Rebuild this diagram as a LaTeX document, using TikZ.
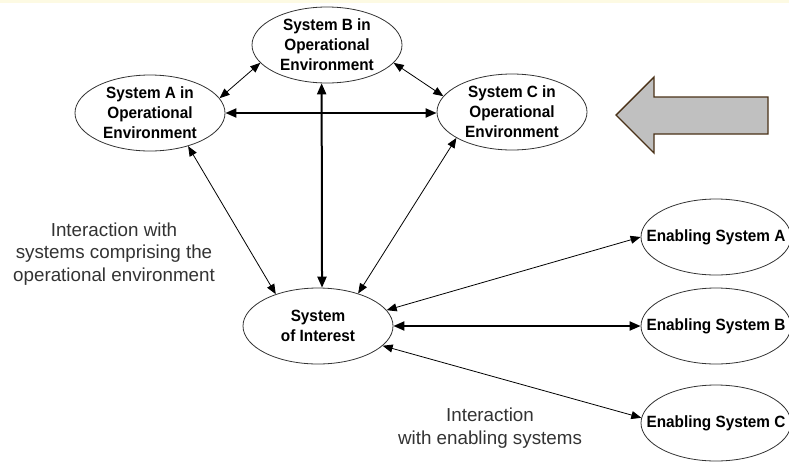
\documentclass[tikz,border=0pt]{standalone}
\usepackage{fontspec}
\setmainfont{Liberation Sans}
\newfontfamily\narrowbold[FakeStretch=0.94]{Liberation Sans Bold}
\usetikzlibrary{shapes.geometric,arrows.meta}
\definecolor{band}{HTML}{FDFAE3}
\definecolor{arrowfill}{HTML}{C0C0C0}
\definecolor{arrowedge}{HTML}{4A3218}
\definecolor{inkgray}{HTML}{333333}
\begin{document}
\begin{tikzpicture}[x=1pt,y=-1pt,
  sys/.style={ellipse,draw=inkgray,line width=0.8pt,minimum width=150pt,minimum height=76pt,inner sep=0pt},
  systxt/.style={align=center,font=\fontsize{16.3}{20}\narrowbold},
  note/.style={align=center,text=inkgray,font=\fontsize{18.8}{22.5}\selectfont},
  link/.style={{Triangle[length=10pt,width=8pt]}-{Triangle[length=10pt,width=8pt]},line width=0.8pt},
  heavylink/.style={{Triangle[length=11pt,width=9pt]}-{Triangle[length=11pt,width=9pt]},line width=2pt}]
\useasboundingbox (0,0) rectangle (789,461);
\fill[white] (0,0) rectangle (789,461);
\fill[band] (0,0) rectangle (789,2.5);
\node[sys,label={[systxt]center:System A in\\Operational\\Environment}] (sysA) at (150,113) {};
\node[sys,label={[systxt]center:System B in\\Operational\\Environment}] (sysB) at (327,45) {};
\node[sys,label={[systxt]center:System C in\\Operational\\Environment}] (sysC) at (512,112) {};
\node[sys,label={[systxt]center:System\\of Interest}] (soi) at (318,326) {};
\node[sys,label={[systxt]center:Enabling System A}] (enA) at (716,237) {};
\node[sys,label={[systxt]center:Enabling System B}] (enB) at (716,326) {};
\node[sys,label={[systxt]center:Enabling System C}] (enC) at (716,423) {};
\node[note] (opnote) at (114,254) {Interaction with\\systems comprising the\\operational environment};
\node[note] (ennote) at (490,428) {Interaction\\with enabling systems};
\draw[link] (sysA.12) -- (sysB.195);
\draw[link] (sysB.-15) -- (sysC.167);
\draw[heavylink] (sysA.east) -- (sysA.east -| sysC.west);
\draw[heavylink] (sysB.262) -- (soi.84);
\draw[link] (sysA.-41) -- (soi.143);
\draw[link] (sysC.205) -- (soi.39);
\draw[link] (soi.13) -- (enA.west);
\draw[heavylink] (soi.east) -- (enB.west);
\draw[link] (soi.-17) -- (enC.176);
\draw[line width=1.4pt,draw=arrowedge,fill=arrowfill] (616,115) -- (654,77) -- (654,97) -- (768,97) -- (768,134) -- (654,134) -- (654,153) -- cycle;
\end{tikzpicture}
\end{document}
